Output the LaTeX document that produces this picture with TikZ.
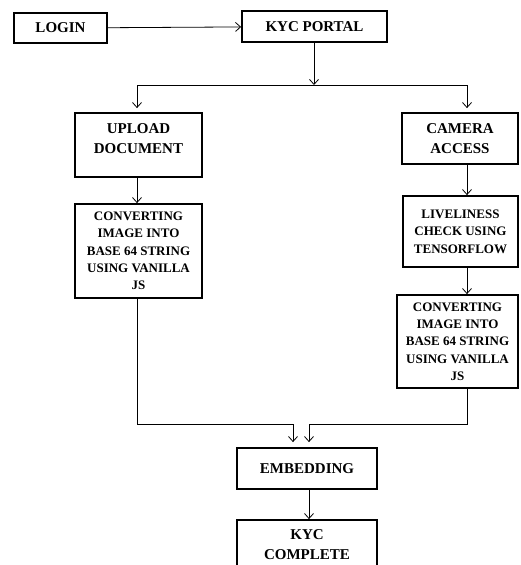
\documentclass[tikz,border=0pt]{standalone}
\usepackage{fontspec}
\setmainfont{Liberation Serif}
\usepackage{tikz}
\usetikzlibrary{arrows.meta}

\begin{document}
\begin{tikzpicture}[x=1pt,y=-1pt]
    \tikzstyle{every node} = [font=\bfseries\fontsize{15}{20}\selectfont]
    \tikzstyle{block} = [draw, rectangle, line width=1.8pt, align=center, inner sep=0pt]
    \tikzstyle{small} = [font=\bfseries\fontsize{13}{17.3}\selectfont]
    \tikzstyle{link} = [line width=0.8pt, -{Straight Barb[length=5pt,width=9pt]}]
    \useasboundingbox (0,0) rectangle (520,565);
    % place nodes
    \node[block,minimum width=93pt,minimum height=30pt](login) at (60.5,28){LOGIN};
    \node[block,minimum width=145pt,minimum height=31pt](kycPortal) at (314.5,26.5){KYC PORTAL};
    \node[block,minimum width=127pt,minimum height=64pt](uploadDocument) at (138.5,145){UPLOAD\\DOCUMENT\\[-8pt]\mbox{}};
    \node[block,small,minimum width=127pt,minimum height=94pt](convertLeft) at (138.5,251){CONVERTING\\IMAGE INTO\\BASE 64 STRING\\USING VANILLA\\JS};
    \node[block,minimum width=116pt,minimum height=51pt](cameraAccess) at (460,138.5){CAMERA\\ACCESS};
    \node[block,small,minimum width=115pt,minimum height=71pt](livelinessCheck) at (460.5,231.5){LIVELINESS\\CHECK USING\\TENSORFLOW};
    \node[block,small,minimum width=121pt,minimum height=93pt](convertRight) at (457.5,341.5){CONVERTING\\IMAGE INTO\\BASE 64 STRING\\USING VANILLA\\JS};
    \node[block,minimum width=140pt,minimum height=41pt](embedding) at (307,468.5){EMBEDDING};
    \node[block,minimum width=140pt,minimum height=50pt](kycComplete) at (307,545){KYC\\COMPLETE};

    \coordinate (splitPoint) at (314,85);
    \coordinate (splitLeft) at (137,85);
    \coordinate (splitRight) at (467,85);
    \coordinate (mergeLeft) at (293,424);
    \coordinate (mergeRight) at (309,424);

    % Connections
    \draw[link] (login) -- (kycPortal);
    \draw[link] (kycPortal.south -| splitPoint) -- (splitPoint);
    \draw[link,-] (splitLeft) -- (splitRight);
    \draw[link,shorten >=4pt] (splitLeft) -- (splitLeft |- uploadDocument.north);
    \draw[link,shorten >=4pt] (splitRight) -- (splitRight |- cameraAccess.north);
    \draw[link] (uploadDocument.south -| splitLeft) -- (convertLeft.north -| splitLeft);
    \draw[link] (cameraAccess.south -| splitRight) -- (livelinessCheck.north -| splitRight);
    \draw[link] (livelinessCheck.south -| splitRight) -- (convertRight.north -| splitRight);
    \draw[link,shorten >=5pt] (convertLeft.south -| splitLeft) |- (mergeLeft) -- (mergeLeft |- embedding.north);
    \draw[link,shorten >=5pt] (convertRight.south -| splitRight) |- (mergeRight) -- (mergeRight |- embedding.north);
    \draw[link] (embedding.south -| mergeRight) -- (kycComplete.north -| mergeRight);

\end{tikzpicture}
\end{document}
